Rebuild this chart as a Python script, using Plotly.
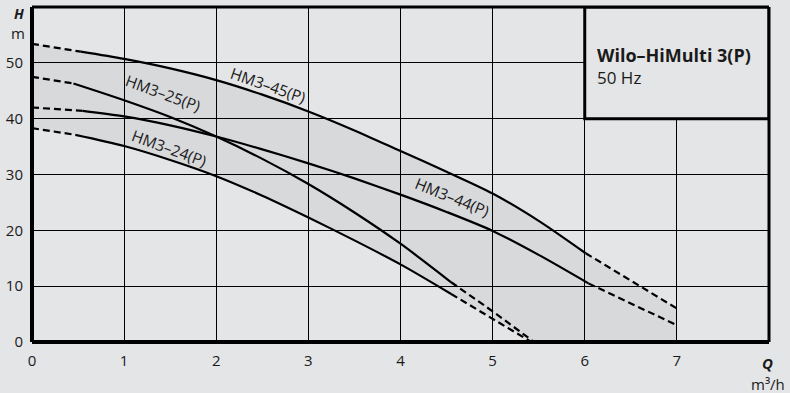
import plotly.graph_objects as go

# ---- data ----
x_ticks = [0, 1, 2, 3, 4, 5, 6, 7]
y_ticks = [0, 10, 20, 30, 40, 50]

q_45 = [0, 0.53, 1, 1.5, 2, 2.5, 3, 3.5, 4, 4.5, 5, 5.5, 6.01, 7]
h_45 = [53.4, 52.0, 50.7, 49.0, 46.9, 44.3, 41.3, 37.9, 34.2, 30.5, 26.6, 21.7, 15.9, 6.0]
solid_45 = (0.53, 6.01)

q_44 = [0, 0.55, 1, 1.5, 2, 2.5, 3, 3.5, 4, 4.5, 5, 5.5, 6.04, 7]
h_44 = [42.0, 41.4, 40.4, 38.8, 36.8, 34.5, 32.0, 29.3, 26.4, 23.3, 19.9, 15.6, 10.5, 3.0]
solid_44 = (0.55, 6.04)

q_25 = [0, 0.45, 1, 1.5, 2, 2.5, 3, 3.5, 4, 4.55, 5, 5.45]
h_25 = [47.5, 46.3, 43.3, 40.3, 36.8, 32.8, 28.3, 23.2, 17.6, 10.7, 5.5, 0]
solid_25 = (0.45, 4.55)

q_24 = [0, 0.47, 1, 1.5, 2, 2.5, 3, 3.5, 4, 4.55, 5, 5.42]
h_24 = [38.3, 37.1, 35.1, 32.6, 29.7, 26.2, 22.3, 18.2, 13.9, 8.6, 4.2, 0]
solid_24 = (0.47, 4.55)

curve_names = ["HM3–45(P)", "HM3–44(P)", "HM3–25(P)", "HM3–24(P)"]

BG = "#e4e5e7"
FONT = "Open Sans"
TXT = "#1a1a1a"

fig = go.Figure()

# shaded operating envelope: top curve, down to Q axis, back along bottom curve
poly_x = q_45 + [q_45[-1]] + q_24[::-1]
poly_y = h_45 + [0] + h_24[::-1]
fig.add_trace(go.Scatter(x=poly_x, y=poly_y, fill="toself", mode="none",
                         fillcolor="rgba(0,0,0,0.05)", hoverinfo="skip", showlegend=False))

def add_curve(q, h, solid):
    lo, hi = solid
    left = [(a, b) for a, b in zip(q, h) if a <= lo]
    mid = [(a, b) for a, b in zip(q, h) if lo <= a <= hi]
    right = [(a, b) for a, b in zip(q, h) if a >= hi]
    for seg, dash, shape in ((left, "7px,4px", "linear"), (right, "7px,4px", "linear"),
                             (mid, "solid", "spline")):
        fig.add_trace(go.Scatter(x=[p[0] for p in seg], y=[p[1] for p in seg], mode="lines",
                                 line=dict(color="black", width=2.2, dash=dash, shape=shape,
                                           smoothing=0.8),
                                 hoverinfo="skip", showlegend=False))

add_curve(q_45, h_45, solid_45)
add_curve(q_44, h_44, solid_44)
add_curve(q_25, h_25, solid_25)
add_curve(q_24, h_24, solid_24)

# curve labels
label_pos = [(2.56, 46.0, 19), (4.56, 25.9, 22), (1.42, 44.6, 20), (1.49, 34.7, 20)]
for name, (lx, ly, ang) in zip(curve_names, label_pos):
    fig.add_annotation(x=lx, y=ly, text=name, showarrow=False, textangle=ang,
                       font=dict(family=FONT, size=15.5, color=TXT))

# title box
fig.add_shape(type="rect", xref="x", yref="y", x0=6, x1=8, y0=40, y1=60,
              fillcolor=BG, line=dict(color="black", width=3), layer="above")
fig.add_annotation(x=6.11, y=51.4, text="<b>Wilo–HiMulti 3(P)</b>", showarrow=False,
                   xanchor="left", yanchor="middle",
                   font=dict(family=FONT, size=18, color=TXT))
fig.add_annotation(x=6.11, y=47.3, text="50 Hz", showarrow=False,
                   xanchor="left", yanchor="middle",
                   font=dict(family=FONT, size=17, color=TXT))

# axis titles (paper coordinates, outside the plot area)
for tx, ty, txt, sz in ((-0.0183, 0.982, "<b><i>H</i></b>", 14),
                        (-0.0196, 0.921, "m", 15),
                        (0.9986, -0.0627, "<b><i>Q</i></b>", 15),
                        (0.9986, -0.125, "m³/h", 15)):
    fig.add_annotation(xref="paper", yref="paper", x=tx, y=ty, text=txt,
                       xanchor="center", yanchor="middle", showarrow=False,
                       font=dict(family=FONT, size=sz, color=TXT))

# frame
for x0, y0, x1, y1, w in ((0, 0, 0, 1, 4), (0, 0, 1, 0, 4), (0, 1, 1, 1, 3), (1, 0, 1, 1, 3)):
    fig.add_shape(type="line", xref="paper", yref="paper", x0=x0, y0=y0, x1=x1, y1=y1,
                  line=dict(color="black", width=w), layer="above")

fig.update_xaxes(range=[0, 8], tickvals=x_ticks, ticktext=[str(v) for v in x_ticks],
                 showgrid=True, gridcolor="black", gridwidth=1, zeroline=False,
                 showline=False, ticks="", ticklabelstandoff=8,
                 tickfont=dict(family=FONT, size=15, color=TXT))
fig.update_yaxes(range=[0, 60], tickvals=y_ticks, ticktext=[str(v) for v in y_ticks],
                 showgrid=True, gridcolor="black", gridwidth=1, zeroline=False,
                 showline=False, ticks="", ticklabelstandoff=8,
                 tickfont=dict(family=FONT, size=15, color=TXT))

fig.update_layout(width=790, height=393, margin=dict(l=32, r=21, t=7, b=51),
                  paper_bgcolor=BG, plot_bgcolor=BG, showlegend=False)

fig.write_html("out.html", config={"displayModeBar": False},
               post_script="document.body.style.margin='0';document.body.style.background='%s';" % BG)
